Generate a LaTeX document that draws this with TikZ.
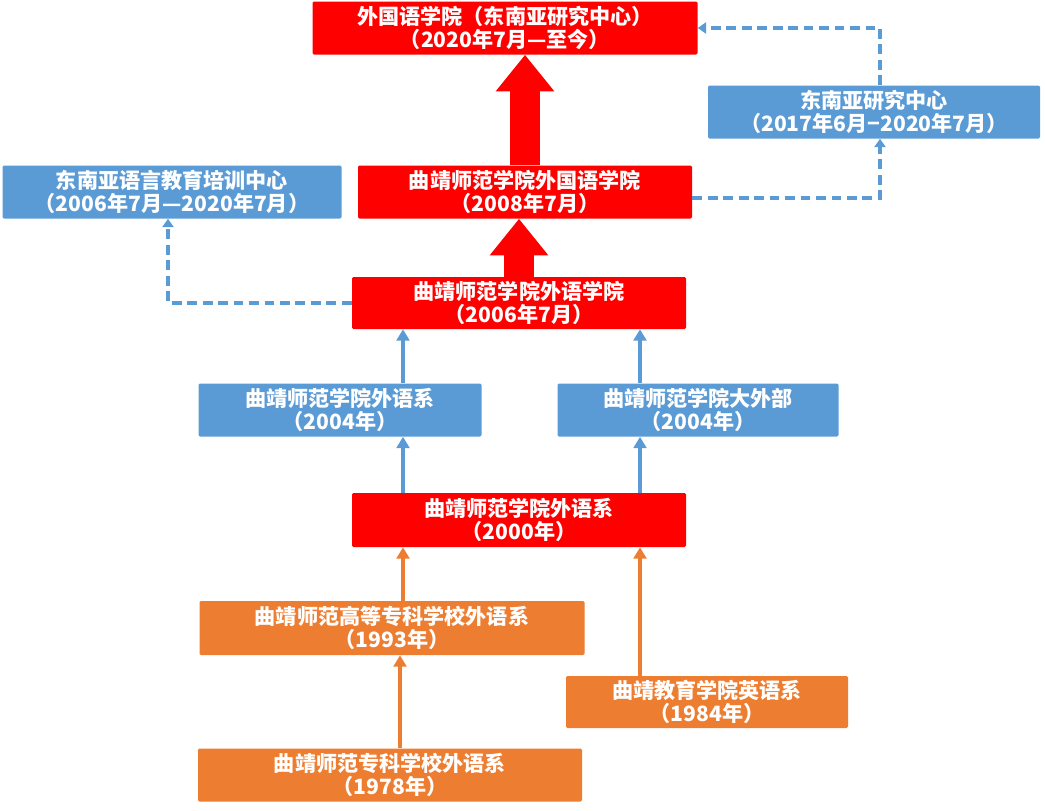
\documentclass[tikz,border=0pt]{standalone}
\usepackage{fontspec}
\setmainfont{Noto Sans CJK SC}
\usetikzlibrary{arrows.meta}
\definecolor{boxred}{HTML}{FF0000}
\definecolor{boxblue}{HTML}{5B9BD5}
\definecolor{boxorange}{HTML}{ED7D31}
\tikzset{
  unit/.style={rounded corners=1pt, text=white, font=\fontsize{15}{16}\selectfont\bfseries, align=center, inner sep=0pt},
  redbox/.style={unit, fill=boxred},
  bluebox/.style={unit, fill=boxblue},
  orangebox/.style={unit, fill=boxorange},
  bigarrow/.style={boxred, line width=21pt, -{Triangle[width=40pt,length=26pt]}},
  bluearrow/.style={boxblue, line width=3pt, -{Triangle[width=9pt,length=8pt]}},
  orangearrow/.style={boxorange, line width=3pt, -{Triangle[width=9pt,length=8pt]}},
  dasharrow/.style={boxblue, line width=2.4pt, dash pattern=on 7pt off 4pt, -{Triangle[width=8pt,length=6pt]}}
}
\begin{document}
\begin{tikzpicture}[x=0.025cm,y=-0.025cm]
\useasboundingbox (0,0) rectangle (1045,810);
% boxes
\node[redbox, minimum width=385*0.025cm, minimum height=53*0.025cm] (now) at (505,28) {外国语学院（东南亚研究中心）\\（2020年7月—至今）};
\node[bluebox, minimum width=332*0.025cm, minimum height=53*0.025cm] (sea) at (874,112) {东南亚研究中心\\（2017年6月−2020年7月）};
\node[bluebox, minimum width=339*0.025cm, minimum height=53*0.025cm] (train) at (172,192) {东南亚语言教育培训中心\\（2006年7月—2020年7月）};
\node[redbox, minimum width=334*0.025cm, minimum height=53*0.025cm] (y2008) at (525,192) {曲靖师范学院外国语学院\\（2008年7月）};
\node[redbox, minimum width=334*0.025cm, minimum height=52*0.025cm] (y2006) at (519,303) {曲靖师范学院外语学院\\（2006年7月）};
\node[bluebox, minimum width=283*0.025cm, minimum height=53*0.025cm] (dept) at (340,410) {曲靖师范学院外语系\\（2004年）};
\node[bluebox, minimum width=281*0.025cm, minimum height=53*0.025cm] (pub) at (698,410) {曲靖师范学院大外部\\（2004年）};
\node[redbox, minimum width=334*0.025cm, minimum height=54*0.025cm] (y2000) at (519,520) {曲靖师范学院外语系\\（2000年）};
\node[orangebox, minimum width=385*0.025cm, minimum height=54*0.025cm] (y1993) at (392,628) {曲靖师范高等专科学校外语系\\（1993年）};
\node[orangebox, minimum width=282*0.025cm, minimum height=52*0.025cm] (y1984) at (707,702) {曲靖教育学院英语系\\（1984年）};
\node[orangebox, minimum width=384*0.025cm, minimum height=53*0.025cm] (y1978) at (390,775) {曲靖师范专科学校外语系\\（1978年）};
% main line
\draw[bigarrow] (y2008.north -| 525,0) -- (now.south -| 525,0);
\draw[bigarrow] (y2006.north -| 519,0) -- (y2008.south -| 519,0);
\draw[bluearrow] (dept.north -| 403,0) -- (y2006.south -| 403,0);
\draw[bluearrow] (pub.north -| 640,0) -- (y2006.south -| 640,0);
\draw[bluearrow] (y2000.north -| 403,0) -- (dept.south -| 403,0);
\draw[bluearrow] (y2000.north -| 640,0) -- (pub.south -| 640,0);
\draw[orangearrow] (y1993.north -| 403,0) -- (y2000.south -| 403,0);
\draw[orangearrow] (y1984.north -| 640,0) -- (y2000.south -| 640,0);
\draw[orangearrow] (y1978.north -| 400,0) -- (y1993.south -| 400,0);
% dashed links
\draw[dasharrow] (y2006.west) -| (train.south -| 168,0);
\draw[dasharrow] (y2008.east |- 0,198) -| (sea.south -| 880,0);
\draw[dasharrow] (sea.north -| 880,0) |- (now.east);
\end{tikzpicture}
\end{document}
